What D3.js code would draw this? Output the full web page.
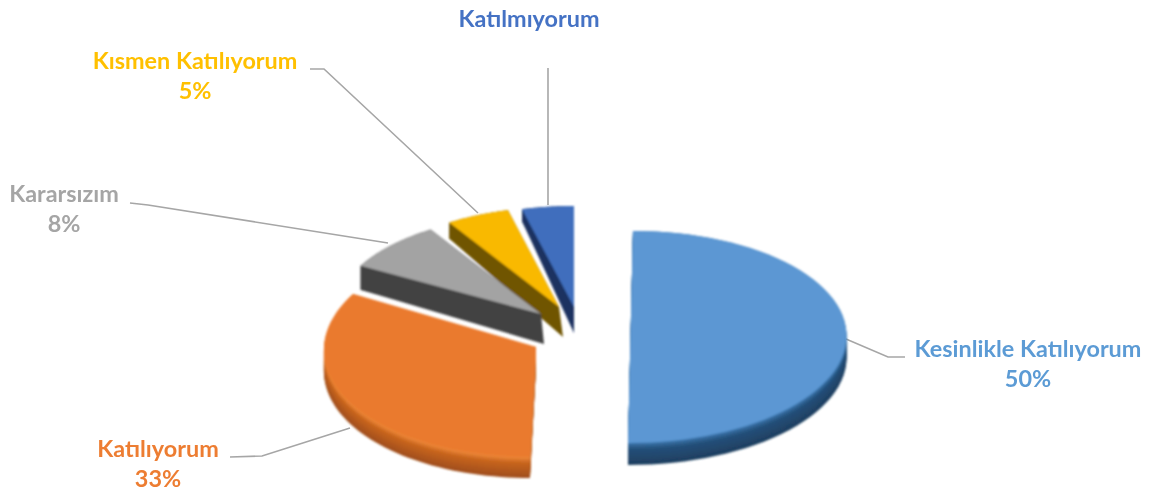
<!DOCTYPE html>
<html><head><meta charset="utf-8">
<script src="https://cdn.jsdelivr.net/npm/d3@7/dist/d3.min.js"></script>
<style>html,body{margin:0;background:#fff}svg{display:block}text{font-family:Lato,"Open Sans",sans-serif;font-weight:700;font-size:23.4px}</style>
</head><body><svg id="c" width="1153" height="498"></svg>
<script>
const categories = ["Kesinlikle Katılıyorum","Katılıyorum","Kararsızım","Kısmen Katılıyorum","Katılmıyorum"];
const values = [50,33,8,5,4];
const percentLabels = ["50%","33%","8%","5%",""];

// Appearance and layout, one entry per slice
const colors = ["#5b97d3","#ea7a2e","#a3a3a3","#f9b900","#3f6ebd"];
const labelColors = ["#5b9bd5","#ed7d31","#a5a5a5","#ffc000","#4472c4"];
const sideStops = [
 ["#3d78b0","#25507a","#1f3f60"],
 ["#f28c3c","#c8651f","#a04e1b"],
 ["#434343","#434343","#3c3c3c"],
 ["#705400","#705400","#665000"],
 ["#1b3160","#1b3160","#182c58"]
];
const geo = [
 {cx:630.5,cy:337,rx:216,ry:106,rim:22,apex:22,dx:0,shear:-0.023},
 {cx:536,cy:347,rx:212,ry:110,rim:21,apex:21,dx:0,shear:-0.055},
 {cx:541,cy:314,rx:206,ry:100,rim:24,apex:30,dx:3,shear:0},
 {cx:559,cy:307,rx:205,ry:100,rim:16,apex:30,dx:4,shear:0},
 {cx:574,cy:307,rx:209,ry:101,rim:12,apex:26,dx:0,shear:0}
];
const leaders = [
 [[846,339],[888,357],[905,357]],
 [[350,428],[262,456],[230,457]],
 [[388,243],[148,205],[130,203]],
 [[478,213],[324,69],[310,69]],
 [[548,205],[548,68]]
];
const labelPos = [[1028,357],[158,457],[64,202],[195,69],[529,27]];

const svg = d3.select("#c");
const defs = svg.append("defs");
defs.append("filter").attr("id","soft").attr("x","-5%").attr("y","-5%").attr("width","110%").attr("height","110%")
  .append("feGaussianBlur").attr("stdDeviation",0.9);
defs.append("filter").attr("id","softText").append("feGaussianBlur").attr("stdDeviation",0.35);

const slices = d3.pie().sort(null).value(d=>d).startAngle(0).endAngle(2*Math.PI)(values);
const line = d3.line();
const pt = (g,a,r=1,dy=0)=>{
  const y = g.cy - Math.cos(a)*g.ry*r;
  return [g.cx + Math.sin(a)*g.rx*r + (y-g.cy)*g.shear, y+dy];
};
const arcAngles = (s)=>d3.range(0,61).map(k=>s.startAngle+(s.endAngle-s.startAngle)*k/60);

// leader lines below slices
const gl = svg.append("g").attr("filter","url(#softText)");
leaders.forEach(l=>gl.append("path").attr("d",line(l)).attr("fill","none").attr("stroke","#a6a6a6").attr("stroke-width",1.6));

const pie = svg.append("g").attr("filter","url(#soft)");
// back to front order
[4,3,2,1,0].forEach(i=>{
  const s = slices[i], g = geo[i];
  const angles = arcAngles(s);
  const shade = d3.scaleLinear().domain([0,0.3,1]).range(sideStops[i]).interpolate(d3.interpolateRgb);
  // rim: shifted copies of the outer curve, deepest first
  d3.range(g.rim,-1,-1).forEach(dy=>{
    const band = angles.map(a=>pt(g,a,1,dy));
    const sector = [pt(g,0,0,dy)].concat(band);
    pie.append("path").attr("d",line(sector)+"Z").attr("fill",shade(dy/g.rim));
  });
  // radial cut face on the upper-left slices
  if (s.startAngle > 1.5*Math.PI) {
    const c = pt(g,0,0), e = pt(g,s.startAngle);
    pie.append("path").attr("d",line([c,e,[e[0],e[1]+g.rim],[c[0]+g.dx,c[1]+g.apex]])+"Z").attr("fill",sideStops[i][0]);
  }
  // top surface
  const top = [pt(g,0,0)].concat(angles.map(a=>pt(g,a)));
  pie.append("path").attr("d",line(top)+"Z").attr("fill",colors[i]);
});

// labels
const gt = svg.append("g").attr("filter","url(#softText)").attr("text-anchor","middle");
categories.forEach((c,i)=>{
  gt.append("text").attr("x",labelPos[i][0]).attr("y",labelPos[i][1]).attr("fill",labelColors[i]).text(c);
  if (percentLabels[i]) gt.append("text").attr("x",labelPos[i][0]).attr("y",labelPos[i][1]+30).attr("fill",labelColors[i]).text(percentLabels[i]);
});
</script></body></html>
